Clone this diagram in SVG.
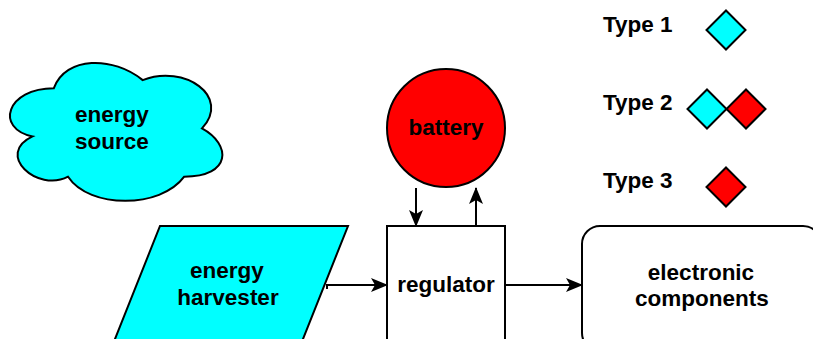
<svg xmlns="http://www.w3.org/2000/svg" width="813" height="339" viewBox="0 0 813 339">
<style>
text{font-family:"Liberation Sans",Arial,sans-serif;font-weight:bold;font-size:22.5px;fill:#000;text-anchor:middle}
.sh{stroke:#000;stroke-width:2}
.c{fill:#00FFFF}
.r{fill:#FF0000}
.w{fill:#FFFFFF}
.ln{stroke:#000;stroke-width:2;fill:none}
.lg{text-anchor:start}
</style>
<defs>
<marker id="ah" markerUnits="userSpaceOnUse" viewBox="0 0 17 14" markerWidth="17" markerHeight="14" refX="16" refY="7" orient="auto">
<path d="M0,0 L17,7 L0,14 L4,7 Z" fill="#000"/>
</marker>
</defs>
<rect width="813" height="339" fill="#FFFFFF"/>
<g id="energy-source">
<path class="sh c" vector-effect="non-scaling-stroke" transform="translate(-5.4,47.9) scale(237,161)" d="M0.25,0.25 C0.05,0.25 0,0.5 0.16,0.55 C0,0.66 0.18,0.9 0.31,0.8 C0.4,1 0.7,1 0.8,0.8 C1,0.8 1,0.6 0.875,0.5 C1,0.3 0.8,0.1 0.625,0.2 C0.5,0.05 0.3,0.05 0.25,0.25 Z"/>
<text x="112" y="122">energy</text>
<text x="112" y="149">source</text>
</g>
<g id="battery">
<circle class="sh r" cx="446" cy="128" r="59"/>
<text x="446" y="135">battery</text>
</g>
<g id="energy-harvester">
<polygon class="sh c" points="160,226 348,226 300.6,345 112.6,345"/>
<text x="227" y="278">energy</text>
<text x="228" y="305">harvester</text>
</g>
<g id="regulator">
<rect class="sh w" x="387" y="226" width="118" height="125"/>
<text x="446" y="292">regulator</text>
</g>
<g id="electronic-components">
<rect class="sh w" x="582" y="226" width="239" height="125" rx="18" ry="18"/>
<text x="701" y="280">electronic</text>
<text x="702" y="306">components</text>
</g>
<g id="legend-type1">
<text class="lg" x="603" y="32">Type 1</text>
<polygon class="sh c" points="726,10.5 745.5,30 726,49.5 706.5,30"/>
</g>
<g id="legend-type2">
<text class="lg" x="603" y="110">Type 2</text>
<polygon class="sh c" points="707,89.5 726.5,109 707,128.5 687.5,109"/>
<polygon class="sh r" points="746,89.5 765.5,109 746,128.5 726.5,109"/>
</g>
<g id="legend-type3">
<text class="lg" x="603" y="188">Type 3</text>
<polygon class="sh r" points="726,167.5 745.5,187 726,206.5 706.5,187"/>
</g>
<g id="connectors">
<line class="ln" x1="416" y1="188" x2="416" y2="226" marker-end="url(#ah)"/>
<line class="ln" x1="476" y1="226" x2="476" y2="188" marker-end="url(#ah)"/>
<line class="ln" x1="327" y1="285" x2="387" y2="285" marker-end="url(#ah)"/>
<line class="ln" x1="327" y1="284" x2="327" y2="289"/>
<line class="ln" x1="505" y1="285" x2="582" y2="285" marker-end="url(#ah)"/>
</g>
</svg>
